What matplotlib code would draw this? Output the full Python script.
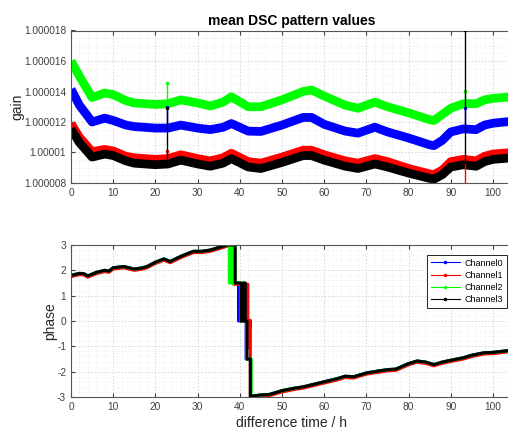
import matplotlib
matplotlib.use("Agg")
import matplotlib.pyplot as plt
from matplotlib.ticker import FixedLocator, FixedFormatter, MultipleLocator
import numpy as np

plt.rcParams['font.family'] = ['Liberation Sans', 'DejaVu Sans']
plt.rcParams['axes.unicode_minus'] = False

# ---------------- gain (ppm above unity) ----------------
gain_t = [0, 2, 5, 8, 10, 13, 15, 20, 23, 26, 30, 33, 36, 38, 42, 45, 50, 55, 57,
          60, 65, 68, 72, 75, 80, 85, 86, 88, 90, 93, 96, 98, 100, 104.5]
gain_ch0 = [14.15, 13.1, 12.0, 12.25, 12.1, 11.8, 11.7, 11.6, 11.6, 11.8, 11.6, 11.5,
            11.65, 11.9, 11.4, 11.38, 11.8, 12.3, 12.3, 11.85, 11.4, 11.27, 11.66, 11.35,
            10.95, 10.5, 10.45, 10.8, 11.35, 11.55, 11.5, 11.8, 11.92, 12.05]
gain_ch1 = [11.9, 11.0, 10.05, 10.2, 10.1, 9.75, 9.65, 9.55, 9.6, 9.85, 9.6, 9.45,
            9.65, 9.95, 9.4, 9.3, 9.7, 10.15, 10.15, 9.85, 9.45, 9.3, 9.6, 9.4,
            8.95, 8.6, 8.55, 8.85, 9.4, 9.55, 9.45, 9.75, 9.9, 10.0]
gain_ch2 = [16.0, 15.0, 13.6, 13.9, 13.8, 13.4, 13.25, 13.15, 13.2, 13.45, 13.25, 13.05,
            13.3, 13.65, 13.0, 13.0, 13.45, 14.0, 14.1, 13.7, 13.1, 12.9, 13.3, 13.0,
            12.6, 12.15, 12.1, 12.5, 12.9, 13.2, 13.2, 13.45, 13.55, 13.65]
gain_ch3 = [11.55, 10.65, 9.7, 9.9, 9.8, 9.45, 9.3, 9.2, 9.25, 9.5, 9.25, 9.1,
            9.3, 9.6, 9.05, 8.95, 9.35, 9.8, 9.8, 9.5, 9.1, 8.95, 9.25, 9.05,
            8.65, 8.3, 8.25, 8.55, 9.05, 9.2, 9.1, 9.4, 9.55, 9.65]

# single-sample outliers: time, band level, outlier level (ppm)
spike_t = [22.7, 93.4]
spike_ch0 = [(11.6, 13.0), (11.55, 12.9)]
spike_ch1 = [(9.6, 10.1), (9.55, 6.0)]
spike_ch2 = [(13.2, 14.55), (13.2, 14.05)]
spike_ch3 = [(9.07, 12.9), (9.3, 18.0)]

gain_yticks = [1.000008, 1.00001, 1.000012, 1.000014, 1.000016, 1.000018]
gain_yticklabels = ['1.000008', '1.00001', '1.000012', '1.000014', '1.000016', '1.000018']

# ---------------- phase (rad) ----------------
phase_pre_t = [0, 2, 3, 4, 6, 8, 9, 10, 11, 12.5, 15, 17, 18, 20, 22, 23.5, 26, 29,
               31, 33, 35, 37]
phase_pre = [1.8, 1.88, 1.87, 1.78, 1.92, 2.0, 1.97, 2.1, 2.12, 2.15, 2.05, 2.1, 2.15,
             2.32, 2.45, 2.35, 2.55, 2.75, 2.75, 2.8, 2.9, 3.0]
phase_post_t = [42.7, 45, 47, 50, 53, 55, 58, 60, 63, 65, 67, 70, 73, 75, 77, 80, 82,
                84, 86, 88, 90, 93, 95, 98, 100, 104.5]
phase_post = [-2.97, -2.92, -2.9, -2.75, -2.65, -2.6, -2.48, -2.4, -2.28, -2.18, -2.2,
              -2.05, -1.97, -1.92, -1.9, -1.68, -1.58, -1.62, -1.72, -1.62, -1.55,
              -1.45, -1.35, -1.25, -1.24, -1.15]
# phase-jump region for each channel
jump_t_ch0 = [37.6, 38.4, 38.4, 39.7, 39.7, 41.5, 41.5, 42.6, 42.6]
jump_ph_ch0 = [3.0, 3.0, 1.5, 1.5, 0.0, 0.0, -1.5, -1.5, -3.0]
jump_t_ch1 = [37.8, 38.6, 38.6, 41.9, 41.9, 42.5, 42.5, 43.1, 43.1]
jump_ph_ch1 = [2.98, 2.98, 1.5, 1.5, -1.0, 0.08, -3.0, -3.0, -3.0]
jump_t_ch2 = [37.5, 37.5, 37.8, 37.8, 38.1, 38.1, 38.5, 38.5, 38.9, 38.9, 40.2, 40.2,
              40.6, 40.6, 41.0, 41.0, 41.6, 41.6, 42.7, 42.7]
jump_ph_ch2 = [3.0, 1.5, 1.5, 3.0, 3.0, 1.5, 1.5, 3.0, 3.0, 1.5, 1.5, 0.0, 0.0, 1.5,
               1.5, 0.0, 0.0, -1.5, -1.5, -3.0]
jump_t_ch3 = [38.9, 38.9, 40.3, 40.3, 40.8, 40.8, 41.3, 41.3, 41.7, 41.7, 42.5, 42.5]
jump_ph_ch3 = [3.0, 1.5, 1.5, 0.0, 0.0, 1.5, 1.5, 0.0, 0.0, -1.5, -1.5, -3.0]
phase_offset_ch1 = -0.05

channel_names = ['Channel0', 'Channel1', 'Channel2', 'Channel3']
channel_colors = ['#0000ff', '#ff0000', '#00ff00', '#000000']

W, H = 508, 433
fig = plt.figure(figsize=(W / 100, H / 100), dpi=100)
ax_left = 71 / W
ax_w = (512 - 71) / W
ax1 = fig.add_axes([ax_left, 1 - 183 / H, ax_w, (183 - 30.5) / H])
ax2 = fig.add_axes([ax_left, 1 - 397 / H, ax_w, (397 - 245) / H])

gains = [gain_ch0, gain_ch1, gain_ch2, gain_ch3]
spikes = [spike_ch0, spike_ch1, spike_ch2, spike_ch3]
for g, sp, c in zip(gains, spikes, channel_colors):
    gv = 1 + np.asarray(g) * 1e-6
    ax1.plot(gain_t, gv, color=c, lw=6.3, solid_capstyle='butt',
             solid_joinstyle='round', zorder=2)
    for t, (lo, hi) in zip(spike_t, sp):
        ax1.plot([t, t], [1 + lo * 1e-6, 1 + hi * 1e-6], color=c, lw=1.0,
                 marker='.', markersize=3, markevery=[1], zorder=3)

jumps = [(jump_t_ch0, jump_ph_ch0), (jump_t_ch1, jump_ph_ch1),
         (jump_t_ch2, jump_ph_ch2), (jump_t_ch3, jump_ph_ch3)]
handles = []
for i, ((jt, jp), c, name) in enumerate(zip(jumps, channel_colors, channel_names)):
    off = phase_offset_ch1 if i == 1 else 0.0
    t = list(phase_pre_t) + list(jt) + list(phase_post_t)
    p = np.array(list(phase_pre) + list(jp) + list(phase_post))
    ax2.plot(t, p + off, color=c, lw=2.2, zorder=2)
    handles.append(plt.Line2D([], [], color=c, lw=0.8, marker='.', markersize=3))

tick_color = '#404040'
for ax in (ax1, ax2):
    ax.set_xlim(0, (512 - 71) / 4.22)
    ax.xaxis.set_major_locator(MultipleLocator(10))
    ax.xaxis.set_minor_locator(MultipleLocator(2))
    ax.tick_params(which='both', direction='in', top=True, right=False,
                   labelsize=7.3, colors=tick_color, length=3)
    ax.tick_params(which='minor', length=0)
    ax.grid(which='major', color='#d4d4d4', lw=0.6, ls=(0, (2, 2)))
    ax.grid(which='minor', color='#e6e6e6', lw=0.5, ls=(0, (1, 2)))
    ax.set_axisbelow(True)
    for s in ax.spines.values():
        s.set_color('#555555')
        s.set_linewidth(0.8)

ax1.set_ylim(1.000008, 1.000018)
ax1.yaxis.set_major_locator(FixedLocator(gain_yticks))
ax1.yaxis.set_major_formatter(FixedFormatter(gain_yticklabels))
ax1.yaxis.set_minor_locator(MultipleLocator(0.5e-6))
ax1.set_ylabel('gain', fontsize=10, color='#262626', labelpad=0)
ax1.set_title('mean DSC pattern values', fontsize=10, fontweight='bold',
              color='#000000', pad=4)

ax2.set_ylim(-3, 3)
ax2.yaxis.set_major_locator(MultipleLocator(1))
ax2.yaxis.set_minor_locator(MultipleLocator(0.2))
ax2.set_ylabel('phase', fontsize=10, color='#262626', labelpad=0)
ax2.set_xlabel('difference time / h', fontsize=10, color='#262626', labelpad=3)

leg = ax2.legend(handles, channel_names, loc='upper right',
                 bbox_to_anchor=(507 / W, 1 - 255 / H), bbox_transform=fig.transFigure,
                 fontsize=6.5, fancybox=False, framealpha=1, edgecolor='#000000',
                 handlelength=3.3, labelspacing=0.35, borderpad=0.4, handletextpad=0.5,
                 borderaxespad=0)
leg.get_frame().set_linewidth(0.6)

fig.savefig('out.png', dpi=100)
